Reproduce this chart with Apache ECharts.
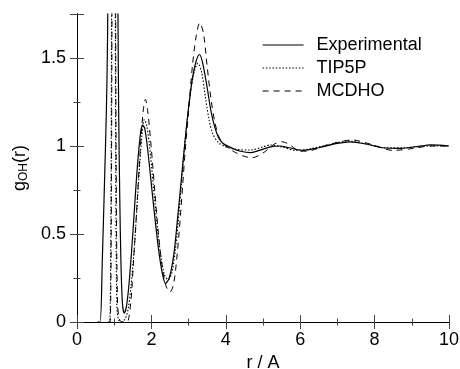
<!DOCTYPE html>
<html>
<head>
<meta charset="utf-8">
<script src="https://cdn.jsdelivr.net/npm/echarts@6/dist/echarts.min.js"></script>
<style>
html,body{margin:0;padding:0;background:#fff;}
#chart{width:460px;height:369px;}
</style>
</head>
<body>
<div id="chart"></div>
<script>
// Experimental
const rExp = [0.55,0.62,0.68,0.74,0.79,0.82,0.86,0.95,1.03,1.08,1.10,1.12,1.15,1.18,1.22,1.27,1.33,1.40,1.50,1.60,1.70,1.76,1.82,1.90,2.00,2.10,2.20,2.30,2.38,2.48,2.60,2.70,2.80,2.90,3.00,3.10,3.20,3.29,3.38,3.50,3.60,3.70,3.80,3.90,4.00,4.20,4.40,4.65,4.90,5.20,5.46,5.70,6.08,6.50,7.00,7.34,7.80,8.20,8.70,9.20,9.50,10.0];
const gExp = [0,0,0.35,0.8,1.2,1.6,2.5,5,5,2.5,1.8,1.2,0.7,0.35,0.11,0.05,0.09,0.22,0.5,0.82,1.06,1.12,1.10,0.98,0.78,0.58,0.40,0.27,0.22,0.25,0.38,0.58,0.80,1.02,1.22,1.38,1.48,1.52,1.47,1.33,1.20,1.11,1.05,1.02,1.005,0.985,0.97,0.962,0.975,0.995,1.0,0.99,0.975,0.99,1.015,1.024,1.01,0.99,0.987,0.998,1.006,1.0];
// TIP5P
const rTip = [0.84,0.88,0.92,0.96,1.00,1.04,1.07,1.12,1.20,1.30,1.38,1.45,1.55,1.65,1.75,1.81,1.87,1.95,2.05,2.15,2.25,2.35,2.45,2.55,2.65,2.75,2.85,2.95,3.05,3.15,3.25,3.35,3.45,3.55,3.65,3.80,4.00,4.30,4.65,5.00,5.20,5.50,5.90,6.30,6.80,7.30,7.80,8.30,8.80,9.30,10.0];
const gTip = [0,0,1.0,4,4,1.0,0.1,0.01,0,0.02,0.08,0.2,0.45,0.78,1.07,1.15,1.12,1.0,0.78,0.56,0.38,0.27,0.24,0.28,0.42,0.64,0.9,1.12,1.30,1.42,1.47,1.42,1.28,1.15,1.07,1.02,0.995,0.98,0.977,0.995,1.006,0.995,0.975,0.985,1.01,1.028,1.01,0.99,0.99,1.0,1.0];
// MCDHO
const rMc = [0.85,0.89,0.93,0.97,1.01,1.05,1.09,1.15,1.25,1.33,1.38,1.45,1.51,1.60,1.70,1.78,1.84,1.90,2.00,2.10,2.20,2.30,2.40,2.50,2.60,2.70,2.80,2.90,3.00,3.10,3.20,3.30,3.40,3.50,3.60,3.70,3.80,3.90,4.00,4.20,4.45,4.70,5.00,5.30,5.50,5.70,6.00,6.30,6.80,7.40,7.90,8.50,9.00,9.50,10.0];
const gMc = [0,0,1.0,4,4,1.0,0.1,0.01,0,0,0.01,0.12,0.31,0.62,0.98,1.2,1.265,1.2,0.98,0.72,0.48,0.3,0.2,0.17,0.22,0.4,0.66,0.95,1.2,1.45,1.62,1.70,1.64,1.45,1.27,1.14,1.06,1.02,1.0,0.97,0.945,0.933,0.96,1.01,1.024,1.01,0.97,0.975,1.01,1.034,1.01,0.975,0.985,1.0,1.0];
const seriesNames = ['Experimental','TIP5P','MCDHO'];

const pairs = (r,g) => r.map((v,i)=>[v,g[i]]);
const FONT = '"Liberation Sans", Arial, Helvetica, sans-serif';
const styles = [
  {color:'#000',width:1.2,type:'solid'},
  {color:'#000',width:1.1,type:[1.5,1.8]},
  {color:'#000',width:1,type:[6,5]}
];
const axisCommon = {
  type:'value', min:0,
  axisLine:{show:true,lineStyle:{color:'#000',width:1}},
  axisTick:{show:true,inside:true,length:7,lineStyle:{color:'#444'}},
  minorTick:{show:true,splitNumber:2,length:3.5,lineStyle:{color:'#444'}},
  splitLine:{show:false},
};
const chart = echarts.init(document.getElementById('chart'), null, {renderer:'canvas'});
chart.setOption({
  backgroundColor:'#fff',
  animation:false,
  grid:{left:77,right:11,top:14,bottom:47,containLabel:false,outerBoundsMode:'none'},
  legend:{
    orient:'vertical', left:262, top:36, padding:0,
    itemWidth:41, itemHeight:14, itemGap:5,
    itemStyle:{opacity:0},
    textStyle:{fontFamily:FONT,fontSize:18,color:'#000',padding:[0,0,0,8]},
    data:seriesNames.map((n,i)=>({name:n,lineStyle:styles[i],itemStyle:{opacity:0}}))
  },
  xAxis:[
    Object.assign({},axisCommon,{max:10,interval:2,position:'bottom',
      axisLabel:{fontFamily:FONT,fontSize:18,color:'#000',margin:9},
      name:'r / A',nameLocation:'middle',nameGap:29,
      nameTextStyle:{fontFamily:FONT,fontSize:18,color:'#000'}}),
    Object.assign({},axisCommon,{max:10,interval:2,position:'top',axisLabel:{show:false}})
  ],
  yAxis:[
    Object.assign({},axisCommon,{max:1.75,interval:0.5,position:'left',
      axisLabel:{fontFamily:FONT,fontSize:18,color:'#000',margin:11,
        formatter:v=> (v===1.75?'':String(v))},
      name:'{g|g}{s|OH}{g|(r)}',nameLocation:'middle',nameGap:44,
      nameTextStyle:{fontFamily:FONT,fontSize:18,color:'#000',
        rich:{g:{fontFamily:FONT,fontSize:18,color:'#000'},
              s:{fontFamily:FONT,fontSize:12,color:'#000',verticalAlign:'bottom',padding:[8,0,0,0]}}}}),
    Object.assign({},axisCommon,{max:1.75,interval:0.5,position:'right',axisLabel:{show:false}})
  ],
  series:seriesNames.map((n,i)=>({
    name:n,type:'line',
    data:[pairs(rExp,gExp),pairs(rTip,gTip),pairs(rMc,gMc)][i],
    symbol:'none',smooth:0.3,clip:true,
    lineStyle:styles[i],itemStyle:{color:'#000'}
  }))
});
</script>
</body>
</html>
